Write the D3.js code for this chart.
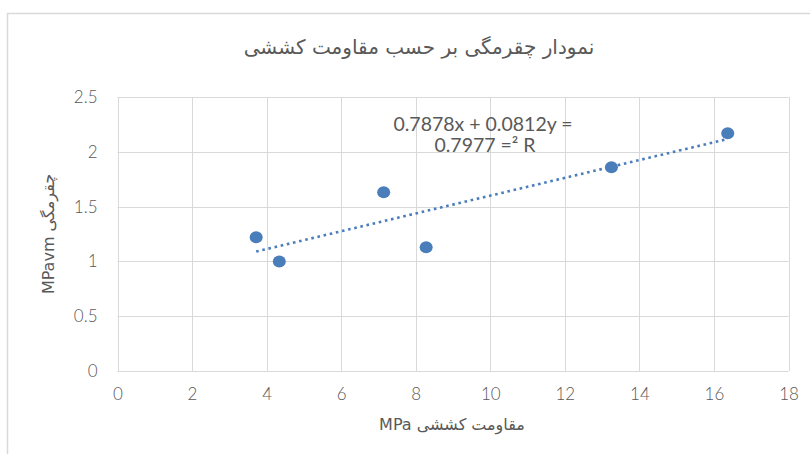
<!DOCTYPE html>
<html>
<head>
<meta charset="utf-8">
<script src="https://cdn.jsdelivr.net/npm/d3@7"></script>
<style>
  body { margin: 0; background: #fff; }
  svg text { font-family: "Lato", "Open Sans", sans-serif; fill: #595959; }
  .fa { font-family: "DejaVu Sans", sans-serif; }
  .grid line { stroke: #d9d9d9; stroke-width: 1; }
</style>
</head>
<body>
<svg id="chart" width="810" height="454"></svg>
<script>
var tensile = [3.72, 4.34, 7.14, 8.28, 13.25, 16.37];
var toughness = [1.22, 1.00, 1.63, 1.13, 1.86, 2.17];
var xTicks = [0, 2, 4, 6, 8, 10, 12, 14, 16, 18];
var yTicks = [0, 0.5, 1, 1.5, 2, 2.5];
var trendSlope = 0.0812;
var trendIntercept = 0.7878;
var trendR2 = 0.7977;

var titleText = "نمودار چقرمگی بر حسب مقاومت کششی";
var xTitle = "مقاومت کششی MPa";
var yTitle = "چقرمگی MPavm";

var svg = d3.select("#chart");
var plotLeft = 117.5, plotRight = 788.5, plotTop = 97, plotBottom = 371;
var blue = "#4a7ebb";

// chart frame (cut off at right/bottom like the source)
svg.append("rect")
    .attr("x", 7.5).attr("y", 13.5)
    .attr("width", 820).attr("height", 460)
    .attr("fill", "none").attr("stroke", "#d9d9d9").attr("stroke-width", 1.5);

var x = d3.scaleLinear().domain([0, 18]).range([plotLeft, plotRight]);
var y = d3.scaleLinear().domain([0, 2.5]).range([plotBottom, plotTop]);

// gridlines
var grid = svg.append("g").attr("class", "grid");
grid.selectAll("line.v")
    .data(xTicks)
    .enter()
    .append("line")
    .attr("x1", d => Math.round(x(d)) + 0.5)
    .attr("x2", d => Math.round(x(d)) + 0.5)
    .attr("y1", plotTop)
    .attr("y2", plotBottom);
grid.selectAll("line.h")
    .data(yTicks)
    .enter()
    .append("line")
    .attr("x1", plotLeft)
    .attr("x2", plotRight)
    .attr("y1", d => Math.round(y(d)) + 0.5)
    .attr("y2", d => Math.round(y(d)) + 0.5);

// axes, only labels
var xAxis = d3.axisBottom(x).tickValues(xTicks).tickSize(0).tickPadding(17);
var gx = svg.append("g")
    .attr("transform", "translate(0," + plotBottom + ")")
    .call(xAxis);
var yAxis = d3.axisLeft(y).tickValues(yTicks).tickSize(0).tickPadding(20)
    .tickFormat(d3.format("~g"));
var gy = svg.append("g")
    .attr("transform", "translate(" + plotLeft + ",0)")
    .call(yAxis);
[gx, gy].forEach(function(g){
    g.select(".domain").remove();
    g.selectAll("text")
        .attr("font-size", 17)
        .attr("font-weight", 300)
        .attr("font-family", "Lato, sans-serif")
        .attr("fill", "#595959");
});

// trendline
var xMin = d3.min(tensile), xMax = d3.max(tensile);
svg.append("line")
    .attr("x1", x(xMin)).attr("y1", y(trendSlope * xMin + trendIntercept))
    .attr("x2", x(xMax)).attr("y2", y(trendSlope * xMax + trendIntercept))
    .attr("stroke", blue)
    .attr("stroke-width", 2.6)
    .attr("stroke-dasharray", "2.6,3.7");

// points
svg.selectAll("ellipse.pt")
    .data(tensile)
    .enter()
    .append("ellipse")
    .attr("class", "pt")
    .attr("cx", d => x(d))
    .attr("cy", (d, i) => y(toughness[i]))
    .attr("rx", 6.5)
    .attr("ry", 6)
    .attr("fill", blue);

// trendline label (shown as it appears in the source)
svg.append("text")
    .attr("x", 483).attr("y", 131)
    .attr("text-anchor", "middle")
    .attr("font-size", 19.5)
    .attr("font-family", "Lato, sans-serif")
    .text(trendIntercept + "x + " + trendSlope + "y =");
svg.append("text")
    .attr("x", 485).attr("y", 152)
    .attr("text-anchor", "middle")
    .attr("font-size", 19.5)
    .attr("font-family", "Lato, sans-serif")
    .text(trendR2 + " =² R");

// titles
svg.append("text")
    .attr("class", "fa")
    .attr("x", 419).attr("y", 54)
    .attr("text-anchor", "middle")
    .attr("direction", "rtl")
    .attr("font-size", 20)
    .text(titleText);

svg.append("text")
    .attr("class", "fa")
    .attr("x", 452).attr("y", 430)
    .attr("text-anchor", "middle")
    .attr("direction", "rtl")
    .attr("font-size", 16)
    .text(xTitle);

svg.append("text")
    .attr("class", "fa")
    .attr("transform", "translate(54,234) rotate(-90)")
    .attr("text-anchor", "middle")
    .attr("direction", "rtl")
    .attr("font-size", 16)
    .text(yTitle);
</script>
</body>
</html>
